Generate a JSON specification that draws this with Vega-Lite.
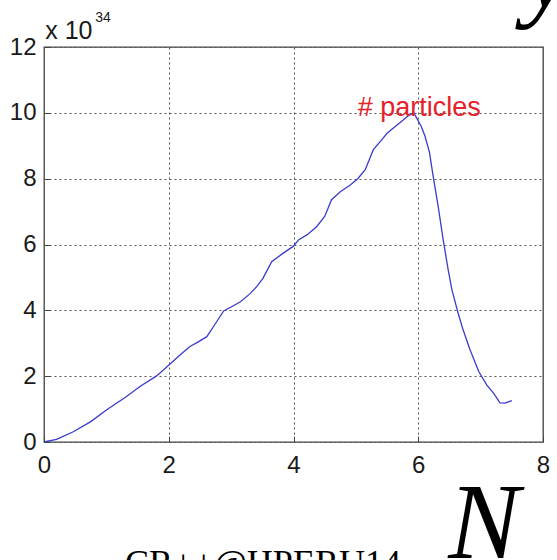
{
  "$schema": "https://vega.github.io/schema/vega-lite/v6.json",
  "width": 499,
  "height": 395,
  "autosize": {"type": "none"},
  "padding": {"left": 44, "top": 47, "right": 14, "bottom": 118},
  "background": "white",
  "config": {
    "view": {"stroke": "#444444", "strokeWidth": 1.3},
    "axis": {
      "grid": true,
      "gridColor": "#555555",
      "gridDash": [2, 3],
      "gridWidth": 1,
      "domain": false,
      "tickColor": "#444444",
      "tickSize": -6,
      "labelFont": "Liberation Sans",
      "labelFontSize": 24,
      "labelColor": "#1a1a1a",
      "labelFlush": false,
      "format": "d",
      "title": null
    }
  },
  "layer": [
    {
      "data": {
        "values": [
          {"N": 0, "particles": 0},
          {"N": 0.2, "particles": 0.08},
          {"N": 0.47, "particles": 0.31},
          {"N": 0.75, "particles": 0.62},
          {"N": 1.0, "particles": 0.97},
          {"N": 1.3, "particles": 1.35},
          {"N": 1.55, "particles": 1.7},
          {"N": 1.8, "particles": 2.0},
          {"N": 1.95, "particles": 2.25},
          {"N": 2.18, "particles": 2.64},
          {"N": 2.34, "particles": 2.9},
          {"N": 2.48, "particles": 3.05},
          {"N": 2.61, "particles": 3.2},
          {"N": 2.75, "particles": 3.6},
          {"N": 2.88, "particles": 3.98},
          {"N": 3.0, "particles": 4.1},
          {"N": 3.15, "particles": 4.26},
          {"N": 3.3, "particles": 4.5},
          {"N": 3.41, "particles": 4.72},
          {"N": 3.51, "particles": 4.97},
          {"N": 3.65, "particles": 5.48},
          {"N": 3.83, "particles": 5.73},
          {"N": 4.0, "particles": 5.95},
          {"N": 4.08, "particles": 6.14},
          {"N": 4.22, "particles": 6.3},
          {"N": 4.37, "particles": 6.54},
          {"N": 4.5, "particles": 6.85},
          {"N": 4.61, "particles": 7.36},
          {"N": 4.75, "particles": 7.6},
          {"N": 4.91, "particles": 7.81},
          {"N": 5.03, "particles": 8.0},
          {"N": 5.15, "particles": 8.27},
          {"N": 5.28, "particles": 8.88},
          {"N": 5.4, "particles": 9.15},
          {"N": 5.5, "particles": 9.38},
          {"N": 5.7, "particles": 9.69},
          {"N": 5.86, "particles": 9.94},
          {"N": 5.93, "particles": 10.0},
          {"N": 6.05, "particles": 9.58},
          {"N": 6.11, "particles": 9.28},
          {"N": 6.18, "particles": 8.8},
          {"N": 6.24, "particles": 8.06},
          {"N": 6.32, "particles": 7.15},
          {"N": 6.4, "particles": 6.14},
          {"N": 6.48, "particles": 5.23},
          {"N": 6.54, "particles": 4.62},
          {"N": 6.64, "particles": 3.91},
          {"N": 6.72, "particles": 3.4},
          {"N": 6.83, "particles": 2.8},
          {"N": 6.97, "particles": 2.14},
          {"N": 7.1, "particles": 1.73},
          {"N": 7.21, "particles": 1.48},
          {"N": 7.31, "particles": 1.19},
          {"N": 7.39, "particles": 1.18},
          {"N": 7.5, "particles": 1.26}
        ]
      },
      "mark": {"type": "line", "color": "#3b3bcc", "strokeWidth": 1.3},
      "encoding": {
        "x": {
          "field": "N",
          "type": "quantitative",
          "scale": {"domain": [0, 8], "nice": false, "zero": false},
          "axis": {"values": [0, 2, 4, 6, 8], "labelPadding": 17}
        },
        "y": {
          "field": "particles",
          "type": "quantitative",
          "scale": {"domain": [0, 12], "nice": false},
          "axis": {"values": [0, 2, 4, 6, 8, 10, 12], "labelPadding": 14}
        }
      }
    },
    {
      "data": {"values": [{"label": "x 10", "x": 0.02, "y": 12.24}]},
      "mark": {"type": "text", "align": "left", "baseline": "alphabetic", "font": "Liberation Sans", "fontSize": 25, "color": "#1a1a1a", "clip": false},
      "encoding": {
        "x": {"field": "x", "type": "quantitative"},
        "y": {"field": "y", "type": "quantitative"},
        "text": {"field": "label"}
      }
    },
    {
      "data": {"values": [{"label": "34", "x": 0.82, "y": 12.76}]},
      "mark": {"type": "text", "align": "left", "baseline": "alphabetic", "font": "Liberation Sans", "fontSize": 14, "color": "#1a1a1a", "clip": false},
      "encoding": {
        "x": {"field": "x", "type": "quantitative"},
        "y": {"field": "y", "type": "quantitative"},
        "text": {"field": "label"}
      }
    },
    {
      "data": {"values": [{"label": "# particles", "x": 5.03, "y": 9.9}]},
      "mark": {"type": "text", "align": "left", "baseline": "alphabetic", "font": "Liberation Sans", "fontSize": 27, "color": "#e4222a", "clip": false},
      "encoding": {
        "x": {"field": "x", "type": "quantitative"},
        "y": {"field": "y", "type": "quantitative"},
        "text": {"field": "label"}
      }
    },
    {
      "data": {"values": [{"label": "y", "x": 7.7, "y": 13.21}, {"label": "N", "x": 6.48, "y": -3.52}]},
      "mark": {"type": "text", "align": "left", "baseline": "alphabetic", "font": "Liberation Serif", "fontStyle": "italic", "fontSize": 107, "color": "#000000", "clip": false},
      "encoding": {
        "x": {"field": "x", "type": "quantitative"},
        "y": {"field": "y", "type": "quantitative"},
        "text": {"field": "label"}
      }
    },
    {
      "data": {"values": [{"label": "CR++@HPERU14", "x": 1.3, "y": -4.04}]},
      "mark": {"type": "text", "align": "left", "baseline": "alphabetic", "font": "Liberation Serif", "fontSize": 36, "color": "#000000", "clip": false},
      "encoding": {
        "x": {"field": "x", "type": "quantitative"},
        "y": {"field": "y", "type": "quantitative"},
        "text": {"field": "label"}
      }
    }
  ]
}
